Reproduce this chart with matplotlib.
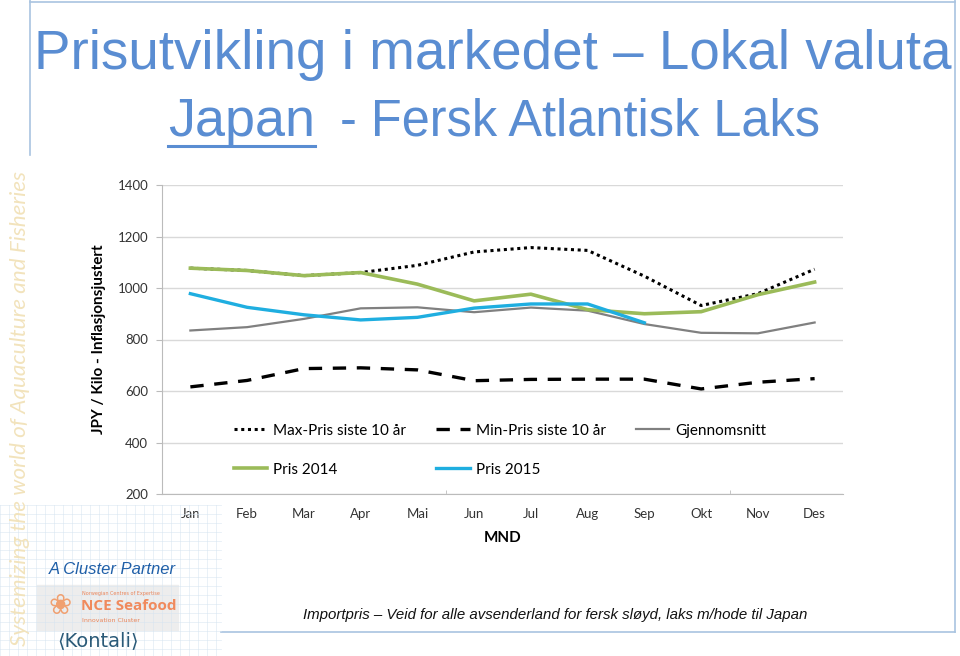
import matplotlib.pyplot as plt
from matplotlib import font_manager
from matplotlib.patches import Rectangle
from matplotlib.lines import Line2D

maaneder = ['Jan', 'Feb', 'Mar', 'Apr', 'Mai', 'Jun', 'Jul', 'Aug', 'Sep', 'Okt', 'Nov', 'Des']
max_pris = [1077, 1068, 1048, 1060, 1088, 1140, 1157, 1146, 1046, 932, 978, 1073]
min_pris = [616, 641, 687, 690, 682, 640, 645, 646, 646, 608, 634, 648]
snitt = [835, 848, 880, 921, 925, 906, 924, 912, 860, 826, 824, 866]
pris_2014 = [1077, 1068, 1048, 1060, 1015, 950, 976, 916, 900, 908, 974, 1023]
pris_2015 = [978, 925, 896, 876, 886, 922, 938, 938, 865]

navn = set(f.name for f in font_manager.fontManager.ttflist)
smal = ['Liberation Sans Narrow', 'Liberation Sans', 'DejaVu Sans']
smal = [f for f in smal if f in navn] or ['DejaVu Sans']
kropp = ['Lato', 'DejaVu Sans']

fig = plt.figure(figsize=(9.6, 6.56), dpi=100)
W, H = 960, 656

def fx(px):
    return px / W

def fy(py):
    return 1 - py / H

# ramme rundt lysbildet
ramme = '#A9C4E0'
for (x0, y0, x1, y1) in [(30, 2, 955, 2), (30, 0, 30, 155), (955, 0, 955, 632), (221, 632, 955, 632)]:
    fig.add_artist(Line2D([fx(x0), fx(x1)], [fy(y0), fy(y1)], color=ramme, lw=1.2))

# lyst rutenett nede til venstre
for gx in range(0, 221, 9):
    fig.add_artist(Line2D([fx(gx), fx(gx)], [fy(505), fy(656)], color='#D6E4F0', lw=0.6, alpha=0.6))
for gy in range(505, 657, 9):
    fig.add_artist(Line2D([fx(0), fx(221)], [fy(gy), fy(gy)], color='#D6E4F0', lw=0.6, alpha=0.6))

side = fig.text(fx(20), fy(408), 'Systemizing the world of Aquaculture and Fisheries', rotation=90,
                ha='center', va='center', fontsize=18, style='italic', color='#F2E3BC', family=kropp)

fig.text(fx(112), fy(569), 'A Cluster Partner', ha='center', va='center', fontsize=12,
         style='italic', color='#1F5FA8', family=smal)
fig.add_artist(Rectangle((fx(37), fy(630)), fx(141), (630 - 585) / H, color='#EDEDED'))
fig.text(fx(60), fy(606), '\u2740', ha='center', va='center', fontsize=20, color='#F0A070')
fig.text(fx(82), fy(593), 'Norwegian Centres of Expertise', ha='left', va='center', fontsize=3.5, color='#E8845A')
fig.text(fx(81), fy(606), 'NCE Seafood', ha='left', va='center', fontsize=11, weight='bold',
         color='#F08A5D', family=['Open Sans', 'DejaVu Sans'])
fig.text(fx(82), fy(620), 'Innovation Cluster', ha='left', va='center', fontsize=4.5, color='#E8845A')
fig.text(fx(98), fy(641), '\u27e8Kontali\u27e9', ha='center', va='center', fontsize=14,
         color='#2A5A78', family=['DejaVu Sans'])

# tittel
t1 = fig.text(fx(493), fy(55), 'Prisutvikling i markedet \u2013 Lokal valuta', ha='center', va='center',
              fontsize=46, color='#5A8DD2', family=smal)
t2a = fig.text(fx(168), fy(122), 'Japan', ha='left', va='center', fontsize=46, color='#5A8DD2', family=smal)
t2b = fig.text(fx(820), fy(122), '- Fersk Atlantisk Laks', ha='right', va='center', fontsize=46,
               color='#5A8DD2', family=smal)
fig.add_artist(Line2D([fx(168), fx(315)], [fy(146), fy(146)], color='#5A8DD2', lw=2.2))

fot = fig.text(fx(555), fy(615), 'Importpris \u2013 Veid for alle avsenderland for fersk sl\u00f8yd, laks m/hode til Japan',
               ha='center', va='center', fontsize=11, style='italic', color='#111111', family=smal)

# diagram
ax = fig.add_axes([fx(162), fy(494), fx(843) - fx(162), (494 - 185) / H])
x = list(range(len(maaneder)))
l_max, = ax.plot(x, max_pris, color='black', lw=2.2, ls=(0, (1, 1.2)), zorder=2, label='Max-Pris siste 10 \u00e5r')
l_min, = ax.plot(x, min_pris, color='black', lw=2.4, ls=(0, (4, 3.2)), zorder=2, label='Min-Pris siste 10 \u00e5r')
l_snitt, = ax.plot(x, snitt, color='#808080', lw=1.6, zorder=3, label='Gjennomsnitt')
l_14, = ax.plot(x, pris_2014, color='#9BBB59', lw=2.6, zorder=4, label='Pris 2014')
l_15, = ax.plot(x[:len(pris_2015)], pris_2015, color='#1FAEE0', lw=2.4, zorder=5, label='Pris 2015')

ax.set_xlim(-0.5, len(maaneder) - 0.5)
ax.set_ylim(200, 1400)
ax.set_yticks(range(200, 1401, 200))
ax.set_xticks(x)
ax.set_xticklabels(maaneder)
ax.set_xticks([4.5, 9.5], minor=True)
ax.tick_params(axis='x', which='major', length=0, pad=10, labelsize=9.5, labelcolor='#333333')
ax.tick_params(axis='x', which='minor', length=3, direction='in', color='#BBBBBB')
ax.tick_params(axis='y', length=4, color='#BBBBBB', labelsize=9.5, labelcolor='#333333', pad=6)
for lab in ax.get_xticklabels() + ax.get_yticklabels():
    lab.set_family(kropp)
ax.grid(axis='y', color='#D9D9D9', lw=1)
ax.set_axisbelow(True)
for s in ['top', 'right']:
    ax.spines[s].set_visible(False)
for s in ['left', 'bottom']:
    ax.spines[s].set_color('#BBBBBB')
ax.set_xlabel('MND', fontsize=11, weight='bold', family=kropp, labelpad=8)
ax.set_ylabel('JPY / Kilo - Inflasjonsjustert', fontsize=11, weight='bold', family=kropp, labelpad=8)

# legenden fylles kolonnevis: rad 1 = max, min, snitt; rad 2 = 2014, 2015
handles = [l_max, l_14, l_min, l_15, l_snitt]
ax.legend(handles, [h.get_label() for h in handles], ncol=3, loc='center left',
          bbox_to_anchor=(0.094, 0.142), frameon=False, borderpad=0,
          prop={'family': kropp, 'size': 11}, handlelength=2.2, columnspacing=1.95,
          labelspacing=1.65, handletextpad=0.4)

# tilpass smal skrift til bredden i originalen
fig.canvas.draw()
r = fig.canvas.get_renderer()
for tekst, bredde in [(t1, 915), (t2a, 147), (t2b, 480), (fot, 503)]:
    w = tekst.get_window_extent(r).width
    tekst.set_fontsize(tekst.get_fontsize() * bredde / w)
hs = side.get_window_extent(r).height
side.set_fontsize(side.get_fontsize() * 475 / hs)

fig.savefig('out.png', dpi=100)
